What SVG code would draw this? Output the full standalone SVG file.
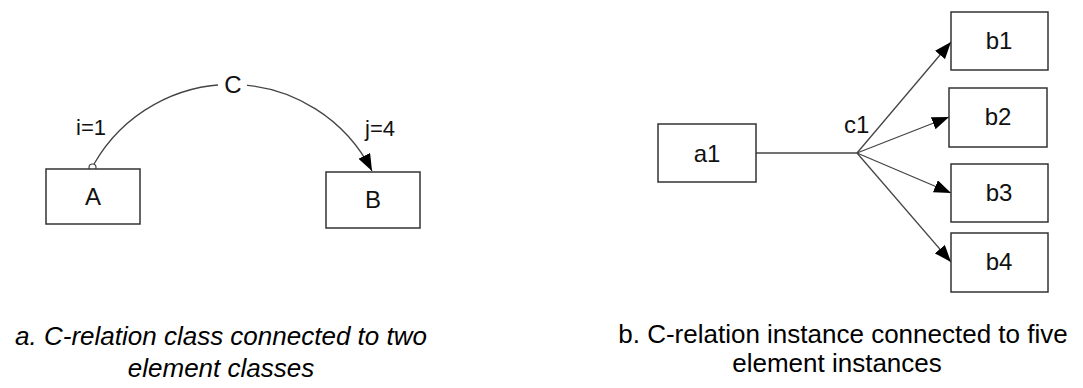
<svg xmlns="http://www.w3.org/2000/svg" width="1083" height="388" viewBox="0 0 1083 388">
<style>
.box{fill:#fff;stroke:#333;stroke-width:1.5}
.lbl{font-family:"Liberation Sans",Arial,sans-serif;font-size:24px;fill:#111}
.sm{font-size:22px}
.mid{text-anchor:middle}
.cap{font-family:"Liberation Sans",Arial,sans-serif;font-size:26px;fill:#000;text-anchor:middle}
.edge{fill:none;stroke:#444;stroke-width:1.3}
</style>
<defs>
<marker id="arr" markerUnits="userSpaceOnUse" markerWidth="18" markerHeight="13" refX="17" refY="6.5" orient="auto">
<path d="M0,0 L17,6.5 L0,13 Z" fill="#000"/>
</marker>
</defs>
<rect width="1083" height="388" fill="#fff"/>
<g id="connectors">
<path class="edge" d="M94,164 A158,158 0 0 1 372,171" marker-end="url(#arr)"/>
<circle cx="92.5" cy="167.5" r="3.5" fill="#fff" stroke="#444" stroke-width="1.2"/>
<rect x="218" y="76" width="29" height="19" fill="#fff"/>
<text class="lbl mid" x="233" y="93">C</text>
<text class="lbl sm" x="76" y="135">i=1</text>
<text class="lbl sm" x="365" y="136">j=4</text>
<line class="edge" x1="756" y1="153" x2="857" y2="153"/>
<line class="edge" x1="857" y1="153" x2="951" y2="42" marker-end="url(#arr)"/>
<line class="edge" x1="857" y1="153" x2="949" y2="117" marker-end="url(#arr)"/>
<line class="edge" x1="857" y1="153" x2="951" y2="193" marker-end="url(#arr)"/>
<line class="edge" x1="857" y1="153" x2="951" y2="262" marker-end="url(#arr)"/>
<text class="lbl" x="844" y="133" font-size="20">c1</text>
</g>
<g id="A"><rect class="box" x="46" y="169" width="94" height="55"/><text class="lbl mid" x="93" y="205">A</text></g>
<g id="B"><rect class="box" x="326" y="172" width="94" height="56"/><text class="lbl mid" x="373" y="208">B</text></g>
<g id="a1"><rect class="box" x="658" y="124" width="98" height="58"/><text class="lbl mid" x="707" y="162">a1</text></g>
<g id="b1"><rect class="box" x="951" y="12" width="97" height="58"/><text class="lbl mid" x="999" y="49">b1</text></g>
<g id="b2"><rect class="box" x="949" y="88" width="98" height="59"/><text class="lbl mid" x="998" y="125">b2</text></g>
<g id="b3"><rect class="box" x="951" y="164" width="97" height="58"/><text class="lbl mid" x="999" y="201">b3</text></g>
<g id="b4"><rect class="box" x="951" y="233" width="97" height="59"/><text class="lbl mid" x="999" y="270">b4</text></g>
<g id="captions">
<text class="cap" x="221" y="345" font-style="italic">a. C-relation class connected to two</text>
<text class="cap" x="221" y="377" font-style="italic">element classes</text>
<text class="cap" x="843" y="343">b. C-relation instance connected to five</text>
<text class="cap" x="837" y="372">element instances</text>
</g>
</svg>
